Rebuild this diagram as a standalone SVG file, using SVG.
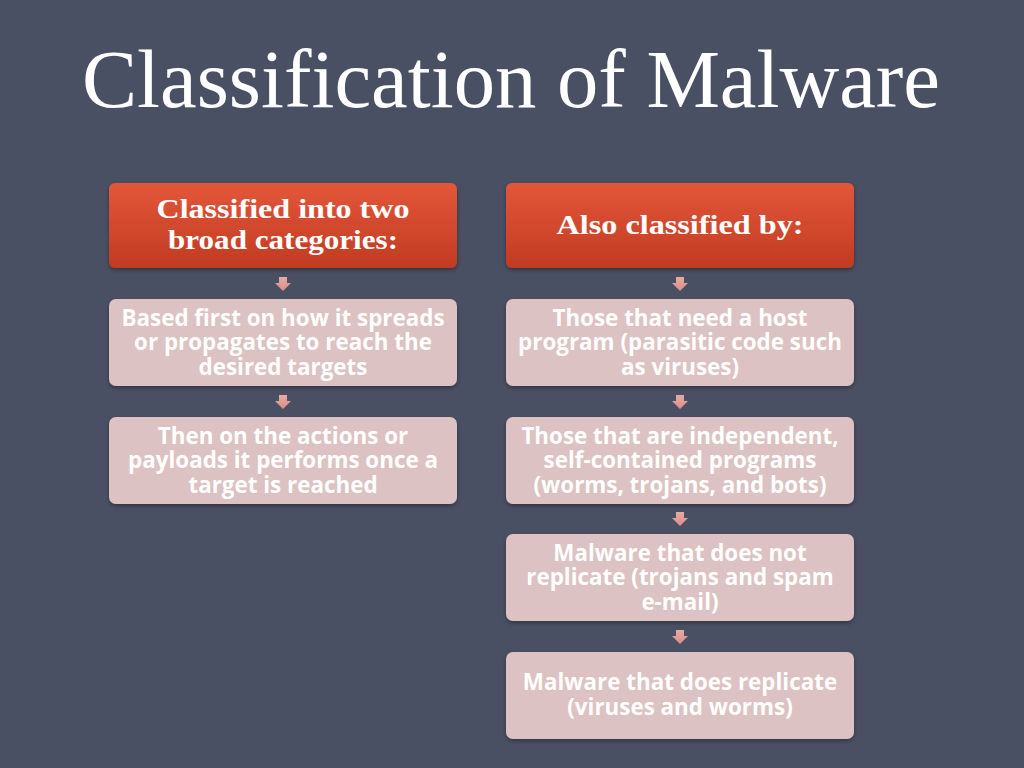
<svg xmlns="http://www.w3.org/2000/svg" width="1024" height="768" viewBox="0 0 1024 768">
<defs>
<linearGradient id="hdr" x1="0" y1="0" x2="0" y2="1">
<stop offset="0" stop-color="#e3573a"/>
<stop offset="1" stop-color="#c13b22"/>
</linearGradient>
<linearGradient id="arr" x1="0" y1="0" x2="0" y2="1">
<stop offset="0" stop-color="#e9aaa3"/>
<stop offset="1" stop-color="#d98f88"/>
</linearGradient>
<filter id="sh" x="-10%" y="-10%" width="120%" height="130%">
<feDropShadow dx="0" dy="2" stdDeviation="2" flood-color="#000" flood-opacity="0.35"/>
</filter>
<path id="ar" d="M-4,0 H4 V6 H8 L0,14 L-8,6 H-4 Z"/>
</defs>
<style>
.hdr{fill:url(#hdr);filter:url(#sh)}
.box{fill:#dcc2c2;filter:url(#sh)}
.ht{font-family:"Liberation Serif","DejaVu Serif",serif;font-weight:bold;font-size:27px;fill:#ffffff;text-anchor:middle}
.bt{font-family:"Open Sans","Noto Sans",sans-serif;font-weight:bold;font-size:22.4px;fill:#ffffff;text-anchor:middle}
.title{font-family:"Liberation Serif","DejaVu Serif",serif;font-size:82px;fill:#ffffff;text-anchor:middle}
.a{fill:url(#arr)}
</style>
<rect width="1024" height="768" fill="#4a5063"/>
<text class="title" x="511" y="107" textLength="858" lengthAdjust="spacingAndGlyphs">Classification of Malware</text>

<g id="left-header">
<rect class="hdr" x="109" y="183" width="348" height="85" rx="6"/>
<text class="ht" x="283" y="218" textLength="253" lengthAdjust="spacingAndGlyphs">Classified into two</text>
<text class="ht" x="283" y="249" textLength="230" lengthAdjust="spacingAndGlyphs">broad categories:</text>
</g>
<g id="left-1">
<rect class="box" x="109" y="299" width="348" height="87" rx="7"/>
<text class="bt" x="283" y="326">Based first on how it spreads</text>
<text class="bt" x="283" y="350">or propagates to reach the</text>
<text class="bt" x="283" y="375">desired targets</text>
</g>
<g id="left-2">
<rect class="box" x="109" y="417" width="348" height="87" rx="7"/>
<text class="bt" x="283" y="444">Then on the actions or</text>
<text class="bt" x="283" y="468">payloads it performs once a</text>
<text class="bt" x="283" y="493">target is reached</text>
</g>

<g id="right-header">
<rect class="hdr" x="506" y="183" width="348" height="85" rx="6"/>
<text class="ht" x="680" y="234" textLength="247" lengthAdjust="spacingAndGlyphs">Also classified by:</text>
</g>
<g id="right-1">
<rect class="box" x="506" y="299" width="348" height="87" rx="7"/>
<text class="bt" x="680" y="326">Those that need a host</text>
<text class="bt" x="680" y="350">program (parasitic code such</text>
<text class="bt" x="680" y="375">as viruses)</text>
</g>
<g id="right-2">
<rect class="box" x="506" y="417" width="348" height="87" rx="7"/>
<text class="bt" x="680" y="444">Those that are independent,</text>
<text class="bt" x="680" y="468">self-contained programs</text>
<text class="bt" x="680" y="493">(worms, trojans, and bots)</text>
</g>
<g id="right-3">
<rect class="box" x="506" y="534" width="348" height="87" rx="7"/>
<text class="bt" x="680" y="561">Malware that does not</text>
<text class="bt" x="680" y="585">replicate (trojans and spam</text>
<text class="bt" x="680" y="610">e-mail)</text>
</g>
<g id="right-4">
<rect class="box" x="506" y="652" width="348" height="87" rx="7"/>
<text class="bt" x="680" y="690">Malware that does replicate</text>
<text class="bt" x="680" y="715">(viruses and worms)</text>
</g>

<g id="connectors">
<use class="a" href="#ar" x="283" y="277"/>
<use class="a" href="#ar" x="283" y="395"/>
<use class="a" href="#ar" x="680" y="277"/>
<use class="a" href="#ar" x="680" y="395"/>
<use class="a" href="#ar" x="680" y="512"/>
<use class="a" href="#ar" x="680" y="630"/>
</g>
</svg>
